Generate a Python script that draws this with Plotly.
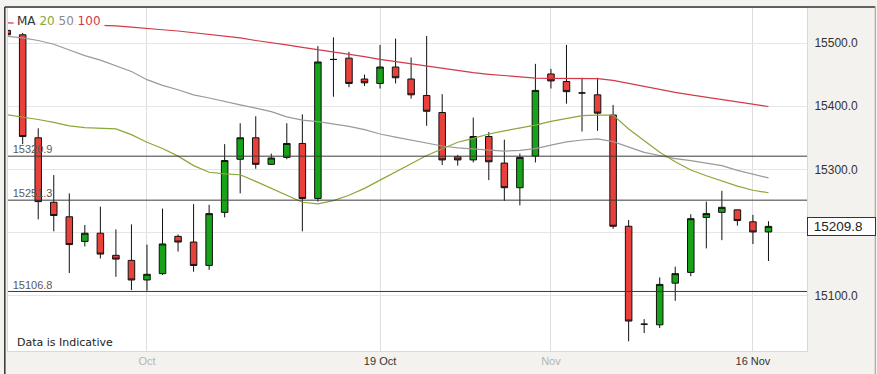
import plotly.graph_objects as go

# ---------------- data ----------------
dates = [
    "2015-09-21", "2015-09-22", "2015-09-23", "2015-09-24", "2015-09-25", "2015-09-27",
    "2015-09-28", "2015-09-29", "2015-09-30", "2015-10-01", "2015-10-02", "2015-10-04",
    "2015-10-05", "2015-10-06", "2015-10-07", "2015-10-08", "2015-10-09", "2015-10-11",
    "2015-10-12", "2015-10-13", "2015-10-14", "2015-10-15", "2015-10-16", "2015-10-18",
    "2015-10-19", "2015-10-20", "2015-10-21", "2015-10-22", "2015-10-23", "2015-10-25",
    "2015-10-26", "2015-10-27", "2015-10-28", "2015-10-29", "2015-10-30", "2015-11-01",
    "2015-11-02", "2015-11-03", "2015-11-04", "2015-11-05", "2015-11-06", "2015-11-08",
    "2015-11-09", "2015-11-10", "2015-11-11", "2015-11-12", "2015-11-13", "2015-11-15",
    "2015-11-16", "2015-11-17",
]
opens = [15520, 15513, 15350, 15248, 15225, 15186, 15199, 15164, 15156, 15125,
         15135, 15194, 15185, 15148, 15232, 15316, 15350, 15308, 15319, 15341,
         15254, 15474, 15476, 15443, 15436, 15462, 15443, 15417, 15390, 15320,
         15315, 15352, 15310, 15271, 15321, 15451, 15439, 15421, 15418, 15386,
         15210, 15055, 15054, 15120, 15137, 15224, 15232, 15236, 15217, 15201]
highs = [15522, 15516, 15365, 15291, 15262, 15212, 15241, 15205, 15213, 15181,
         15238, 15197, 15245, 15244, 15340, 15373, 15384, 15325, 15373, 15387,
         15495, 15509, 15486, 15450, 15497, 15507, 15477, 15511, 15419, 15323,
         15382, 15359, 15347, 15325, 15467, 15459, 15497, 15445, 15445, 15402,
         15220, 15063, 15129, 15146, 15229, 15249, 15266, 15236, 15228, 15218]
lows = [15511, 15340, 15221, 15202, 15136, 15178, 15159, 15130, 15109, 15108,
        15133, 15170, 15138, 15141, 15224, 15262, 15301, 15307, 15316, 15202,
        15249, 15415, 15430, 15432, 15428, 15436, 15412, 15369, 15307, 15306,
        15311, 15283, 15250, 15243, 15311, 15428, 15404, 15360, 15361, 15206,
        15028, 15041, 15049, 15092, 15131, 15175, 15188, 15211, 15182, 15155]
closes = [15513, 15352, 15249, 15227, 15181, 15199, 15166, 15158, 15125, 15134,
          15182, 15185, 15148, 15230, 15314, 15350, 15308, 15318, 15341, 15254,
          15470, 15474, 15436, 15437, 15462, 15445, 15418, 15392, 15315, 15315,
          15352, 15312, 15271, 15319, 15425, 15440, 15423, 15421, 15389, 15210,
          15060, 15055, 15118, 15135, 15222, 15230, 15240, 15219, 15201, 15209.8]

ma20 = [15386.5, 15383, 15379, 15374.5, 15369, 15366, 15365, 15364, 15355, 15343,
        15333, 15321, 15306, 15295.5, 15293, 15291.5, 15281, 15270, 15259, 15248,
        15245.5, 15250.5, 15259, 15270, 15283, 15295.5, 15309, 15322, 15333, 15343,
        15349, 15356, 15361, 15365, 15370, 15376, 15381, 15385, 15386, 15386,
        15364, 15345.5, 15327, 15312, 15299, 15290, 15281.5, 15273.5, 15267, 15263]
ma50 = [15510.5, 15508, 15504, 15498, 15489, 15480, 15473, 15464, 15455, 15442,
        15433, 15426, 15418, 15413, 15407, 15402, 15397, 15391.5, 15383, 15378,
        15375.5, 15372, 15368, 15363, 15356, 15351, 15346, 15341, 15337, 15334,
        15332, 15330, 15329, 15330, 15333, 15338.5, 15343.5, 15346.5, 15348.3, 15344,
        15335, 15327, 15322, 15317, 15314, 15310.5, 15306, 15298.5, 15293, 15286.5]
ma100 = [15532, 15531, 15530.5, 15530, 15529.5, 15529, 15528, 15527, 15525, 15523.5,
         15521, 15519, 15516.5, 15514, 15511, 15508, 15504, 15501, 15497, 15493,
         15489.5, 15486, 15482.5, 15478.5, 15474, 15470.5, 15467, 15463, 15459, 15456,
         15453, 15450.5, 15448.5, 15446, 15444.5, 15444, 15443.5, 15443.5, 15443.5, 15441,
         15436, 15431, 15426.5, 15422, 15418, 15414.5, 15411, 15407, 15403, 15399.5]

levels = [15320.9, 15251.3, 15106.8]
level_labels = ["15320.9", "15251.3", "15106.8"]
last_price = 15209.8

tick_dates = ["2015-10-01", "2015-10-19", "2015-11-01", "2015-11-16"]
tick_text = ['<span style="color:#b4b4b4">Oct</span>', "19 Oct",
             '<span style="color:#b4b4b4">Nov</span>', "16 Nov"]
y_ticks = [15100, 15200, 15300, 15400, 15500]
y_hidden_label = 15200  # covered by the last-price box in the original

# ---------------- style ----------------
GREEN = "#17a317"
RED = "#e8403a"
C20 = "#8aa838"
C50 = "#9a9a9a"
C100 = "#d23a48"
FONT = "Liberation Sans, Arial, sans-serif"

x = list(range(len(dates)))
x_range = [0.055, 51.48]
y_range = [15012.6, 15555.4]

fig = go.Figure()

# labels of the horizontal levels (drawn beneath candles)
fig.add_trace(go.Scatter(
    x=[x_range[0] + 0.3] * len(levels), y=levels, text=level_labels,
    mode="text", textposition="top right",
    textfont=dict(family=FONT, size=11, color="#5a5a5a"), hoverinfo="skip"))

fig.add_trace(go.Candlestick(
    x=x, open=opens, high=highs, low=lows, close=closes,
    increasing=dict(fillcolor=GREEN, line=dict(color="#111111", width=1)),
    decreasing=dict(fillcolor=RED, line=dict(color="#111111", width=1)),
    whiskerwidth=0, hoverinfo="skip"))

for vals, col in [(ma50, C50), (ma20, C20), (ma100, C100)]:
    fig.add_trace(go.Scatter(x=x, y=vals, mode="lines",
                             line=dict(color=col, width=1.2), hoverinfo="skip"))

shapes = []
for lv in levels:
    shapes.append(dict(type="line", xref="paper", x0=0, x1=1, yref="y", y0=lv, y1=lv,
                       line=dict(color="#3a3a3a", width=1)))
# outer frame
shapes.append(dict(type="line", xref="paper", yref="paper", x0=-0.004, x1=1.0854,
                   y0=1.003, y1=1.003, line=dict(color="#333333", width=1.5)))
shapes.append(dict(type="line", xref="paper", yref="paper", x0=-0.004, x1=-0.004,
                   y0=1.003, y1=-0.1, line=dict(color="#333333", width=1.5)))
shapes.append(dict(type="line", xref="paper", yref="paper", x0=1.0854, x1=1.0854,
                   y0=1.003, y1=-0.1, line=dict(color="#9a9a9a", width=1)))

annotations = [
    dict(xref="paper", yref="paper", x=0.006, y=0.9624, xanchor="left", yanchor="middle",
         showarrow=False, bgcolor="rgba(255,255,255,0.92)", borderpad=3,
         text='<span style="color:#333">MA</span> <span style="color:%s">20</span> '
              '<span style="color:#8a8a8a">50</span> <span style="color:%s">100</span>'
              % (C20, C100),
         font=dict(family="DejaVu Sans, sans-serif", size=12)),
    dict(xref="paper", yref="paper", x=0.0088, y=0.026, xanchor="left", yanchor="middle",
         showarrow=False, text="Data is Indicative",
         font=dict(family="DejaVu Sans, sans-serif", size=11, color="#222")),
    dict(xref="paper", yref="y", x=1, y=last_price, xanchor="left", yanchor="middle",
         showarrow=False, text="\u00a0" + f"{last_price:.1f}", align="left",
         bgcolor="white", bordercolor="#333", borderwidth=1, borderpad=2,
         width=63, height=13,
         font=dict(family=FONT, size=13.5, color="#222")),
]

fig.update_layout(
    width=877, height=374,
    margin=dict(l=7, r=70, t=8, b=20),
    paper_bgcolor="#f3f2ee", plot_bgcolor="white",
    showlegend=False, boxgap=0.4,
    shapes=shapes, annotations=annotations,
    xaxis=dict(range=x_range, tickmode="array",
               tickvals=[dates.index(d) for d in tick_dates], ticktext=tick_text,
               showgrid=True, gridcolor="#dedede", gridwidth=1, zeroline=False,
               showline=True, linecolor="#d9d9d9", mirror=True, ticks="",
               tickfont=dict(family=FONT, size=11, color="#333"),
               rangeslider=dict(visible=False), fixedrange=True),
    yaxis=dict(side="right", range=y_range, tickmode="array", tickvals=y_ticks,
               ticktext=["" if v == y_hidden_label else f"{v:.1f}" for v in y_ticks],
               showgrid=True, gridcolor="#e6e6e6", zeroline=False,
               showline=True, linecolor="#d9d9d9", mirror=True, ticks="",
               ticklabelstandoff=4,
               tickfont=dict(family=FONT, size=12, color="#333"), fixedrange=True),
)

fig.write_html("out.html", config={"displayModeBar": False},
               post_script="document.body.style.margin='0';document.body.style.padding='0';")
